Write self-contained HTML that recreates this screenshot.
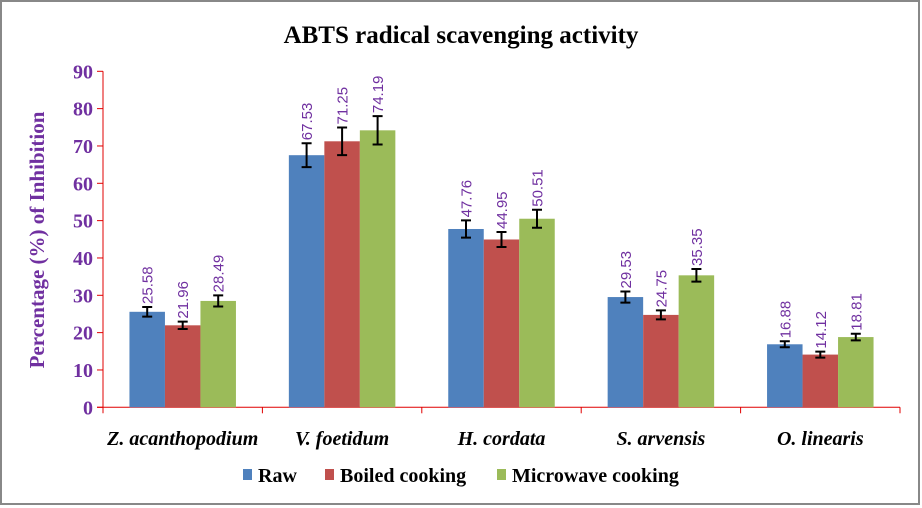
<!DOCTYPE html>
<html><head><meta charset="utf-8"><style>
body{margin:0;background:#fff;}
svg{display:block;}
</style></head><body>
<svg id="c" width="922" height="508" xmlns="http://www.w3.org/2000/svg">
<rect x="1" y="1" width="918" height="503" fill="#fff" stroke="#888" stroke-width="2"/>
<text x="461" y="43" text-anchor="middle" font-family="Liberation Serif, serif" font-weight="bold" font-size="25" fill="#000">ABTS radical scavenging activity</text>
<text transform="translate(44,240) rotate(-90)" text-anchor="middle" font-family="Liberation Serif, serif" font-weight="bold" font-size="21" fill="#7030A0">Percentage (%) of Inhibition</text>
<g id="plot"></g>
<g font-family="Liberation Serif, serif" font-weight="bold" font-size="20">
<rect x="243" y="469" width="9" height="11" fill="#4F81BD"/>
<text x="258" y="482">Raw</text>
<rect x="325" y="469" width="9" height="11" fill="#C0504D"/>
<text x="340" y="482">Boiled cooking</text>
<rect x="497" y="469" width="9" height="11" fill="#9BBB59"/>
<text x="512" y="482">Microwave cooking</text>
</g>
</svg>
<script>
const categories = ["Z. acanthopodium","V. foetidum","H. cordata","S. arvensis","O. linearis"];
const seriesNames = ["Raw","Boiled cooking","Microwave cooking"];
const raw = [25.58,67.53,47.76,29.53,16.88];
const boiled = [21.96,71.25,44.95,24.75,14.12];
const microwave = [28.49,74.19,50.51,35.35,18.81];
const rawErr = [1.3,3.2,2.3,1.5,0.8];
const boiledErr = [1.0,3.7,2.0,1.2,0.8];
const microwaveErr = [1.5,3.8,2.4,1.7,0.9];
const yTicks = [0,10,20,30,40,50,60,70,80,90];

const NS="http://www.w3.org/2000/svg";
const g=document.getElementById('plot');
const X0=103, X1=900, Y0=407.3, Y90=71.3;
const y=v=>Y0-(v/90)*(Y0-Y90);
const gw=(X1-X0)/categories.length;
const bw=35.5;
const colors=["#4F81BD","#C0504D","#9BBB59"];
const sNames=["raw","boiled","microwave"];
function el(t,a){const e=document.createElementNS(NS,t);for(const k in a)e.setAttribute(k,a[k]);g.appendChild(e);return e;}
const ax=el('line',{x1:X0,y1:Y90,x2:X0,y2:Y0,stroke:'#E00000','stroke-width':1});


const bx=el('line',{x1:X0-6,y1:Y0,x2:X1,y2:Y0,stroke:'#E00000','stroke-width':1});


yTicks.forEach(t=>{
  const l=el('line',{x1:X0-6,y1:y(t),x2:X0,y2:y(t),stroke:'#E00000'});
  
  
  const tx=el('text',{x:X0-10,y:y(t)+7,'text-anchor':'end','font-family':'Liberation Serif, serif','font-weight':'bold','font-size':20,fill:'#7030A0'});
  tx.textContent=t;
  
  
});
for(let i=0;i<=categories.length;i++){
  const l=el('line',{x1:X0+i*gw,y1:Y0,x2:X0+i*gw,y2:Y0+6,stroke:'#E00000'});
  
  
}
const data=[raw,boiled,microwave], errs=[rawErr,boiledErr,microwaveErr];
categories.forEach((c,i)=>{
  const cx=X0+i*gw+gw/2;
  const t=el('text',{x:cx,y:445,'text-anchor':'middle','font-family':'Liberation Serif, serif','font-weight':'bold','font-style':'italic','font-size':20,fill:'#000'});
  t.textContent=c;
  
  
  for(let s=0;s<3;s++){
    const v=data[s][i], e=errs[s][i];
    const bxp=cx-1.5*bw+s*bw;
    const r=el('rect',{x:bxp,y:y(v),width:bw,height:Y0-y(v),fill:colors[s]});
    
    
    const mx=bxp+bw/2;
    const eb=el('path',{d:`M${mx},${y(v+e)}V${y(v-e)}M${mx-5},${y(v+e)}H${mx+5}M${mx-5},${y(v-e)}H${mx+5}`,stroke:'#000','stroke-width':2,fill:'none'});
    
    
    const lt=y(v+e)-3;
    const lb=el('text',{transform:`translate(${mx+5.5},${lt}) rotate(-90)`,'text-anchor':'start','font-family':'Liberation Sans, sans-serif','font-size':15,fill:'#7030A0'});
    lb.textContent=v.toFixed(2);
    
    
  }
});
</script>
</body></html>
